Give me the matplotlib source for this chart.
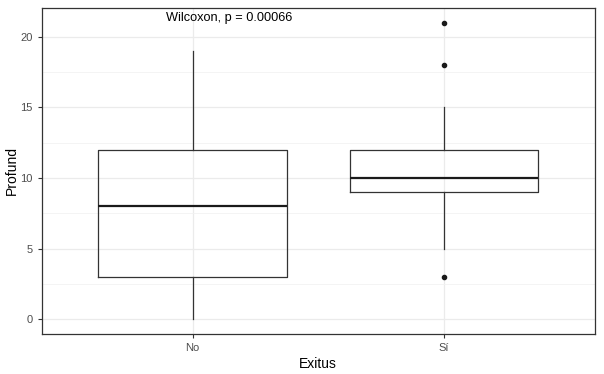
import matplotlib
matplotlib.use("Agg")
import matplotlib.pyplot as plt

plt.rcParams['font.family'] = ['Liberation Sans', 'DejaVu Sans']

# Datos del boxplot
grupos = ['No', 'Sí']
minimos = [0, 5]
q1 = [3, 9]
medianas = [8, 10]
q3 = [12, 12]
maximos = [19, 15]
atipicos = [[], [3, 18, 21]]

stats = []
for g, lo, a, m, b, hi, fl in zip(grupos, minimos, q1, medianas, q3, maximos, atipicos):
    stats.append(dict(label=g, whislo=lo, q1=a, med=m, q3=b, whishi=hi, fliers=fl))

fig = plt.figure(figsize=(6.04, 3.74), dpi=100)
ax = fig.add_axes([0.069, 0.107, 0.916, 0.872])

ax.bxp(stats, positions=[1, 2], widths=0.75, showcaps=False,
       boxprops=dict(color='#333333', linewidth=0.9),
       whiskerprops=dict(color='#333333', linewidth=0.9),
       medianprops=dict(color='#1a1a1a', linewidth=1.6),
       flierprops=dict(marker='o', markerfacecolor='#1a1a1a', markeredgecolor='#1a1a1a',
                       markersize=3, linestyle='none'),
       zorder=3)

ax.set_xlim(0.4, 2.6)
ax.set_ylim(-1.05, 22.05)
ax.set_yticks([0, 5, 10, 15, 20])
ax.set_yticks([2.5, 7.5, 12.5, 17.5], minor=True)
ax.set_xticks([1, 2])
ax.set_xticklabels(grupos)

ax.grid(True, which='major', color='#ebebeb', linewidth=0.9, zorder=0)
ax.grid(True, which='minor', axis='y', color='#f2f2f2', linewidth=0.6, zorder=0)
ax.set_axisbelow(True)
ax.tick_params(which='minor', length=0)
ax.tick_params(which='major', length=3, color='#333333', labelcolor='#4d4d4d', labelsize=8)
for s in ax.spines.values():
    s.set_color('#333333')
    s.set_linewidth(0.9)

ax.set_xlabel('Exitus', fontsize=10, labelpad=3)
ax.set_ylabel('Profund', fontsize=10, labelpad=1)

ax.text(1.145, 21.3, 'Wilcoxon, p = 0.00066', ha='center', va='center', fontsize=9.2)

fig.savefig('out.png', dpi=100)
